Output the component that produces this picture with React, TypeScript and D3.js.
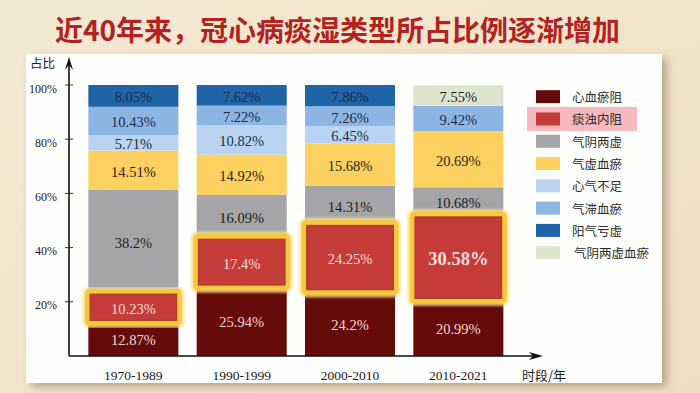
import React from "react";
import * as d3 from "d3";

const periods = ["1970-1989", "1990-1999", "2000-2010", "2010-2021"];
const syndromes = ["心血瘀阻", "痰浊内阻", "气阴两虚", "气虚血瘀", "心气不足", "气滞血瘀", "阳气亏虚", "气阴两虚血瘀"];
const v_xinxueyuzu = [12.87, 25.94, 24.2, 20.99];
const v_tanzhuoneizu = [10.23, 17.4, 24.25, 30.58];
const v_qiyinliangxu = [38.2, 16.09, 14.31, 10.68];
const v_qixuxueyu = [14.51, 14.92, 15.68, 20.69];
const v_xinqibuzu = [5.71, 10.82, 6.45, 0];
const v_qizhixueyu = [10.43, 7.22, 7.26, 9.42];
const v_yangqikuixu = [8.05, 7.62, 7.86, 0];
const v_qiyinxueyu = [0, 0, 0, 7.55];
const yTicks = [20, 40, 60, 80, 100];

const seriesValues = [v_xinxueyuzu, v_tanzhuoneizu, v_qiyinliangxu, v_qixuxueyu, v_xinqibuzu, v_qizhixueyu, v_yangqikuixu, v_qiyinxueyu];
const colors = ["#660b0b", "#c63c3a", "#a5a5a7", "#fdd160", "#b9d3f1", "#8db5e3", "#1f64a6", "#dde5cf"];
const textColors = ["#f6d6cf", "#f8dcd6", "#1d1d1d", "#2a2216", "#1b2b4d", "#1b2b4d", "#1b2b4d", "#1f1f1f"];

const serif = "'Liberation Serif', 'Times New Roman', serif";
const cjk = "'Noto Sans CJK SC', sans-serif";

export default function App() {
  const W = 700, H = 393;
  const x = d3.scaleBand<string>().domain(periods).range([79.2, 512.5]).paddingInner(0.169).paddingOuter(0.0845);
  const y = d3.scaleLinear().domain([0, 100]).range([356, 85]);
  const axisX = 69;

  const rows = periods.map((p, i) => {
    const obj: any = { period: p };
    syndromes.forEach((s, k) => (obj[s] = seriesValues[k][i]));
    return obj;
  });
  const stack = d3.stack<any>().keys(syndromes)(rows);

  const legendY = d3.scalePoint<string>().domain(syndromes).range([96.7, 252.7]);

  return (
    <svg width={W} height={H} style={{ position: "fixed", left: 0, top: 0, display: "block" }}>
      <defs>
        <linearGradient id="bg" x1="0" y1="0" x2="1" y2="1">
          <stop offset="0" stopColor="#f4e9d4" />
          <stop offset="1" stopColor="#efdfc2" />
        </linearGradient>
        <filter id="shadow" x="-5%" y="-5%" width="115%" height="120%">
          <feDropShadow dx="5" dy="4" stdDeviation="4" floodColor="#6b5a40" floodOpacity="0.45" />
        </filter>
        <filter id="glow" x="-10%" y="-10%" width="120%" height="120%">
          <feGaussianBlur stdDeviation="1.2" />
        </filter>
      </defs>
      <rect x={0} y={0} width={W} height={H} fill="url(#bg)" />
      <text x={55} y={41} fontFamily={cjk} fontWeight={700} fontSize={28} fill="#b22320" stroke="#f9efe0" strokeWidth={0.6} paintOrder="stroke">
        近40年来，冠心病痰湿类型所占比例逐渐增加
      </text>
      <rect x={26} y={54} width={636} height={329} fill="#fefefc" filter="url(#shadow)" />

      {/* bars */}
      {stack.map((layer, k) =>
        layer.map((d, i) => {
          const v = seriesValues[k][i];
          if (!v) return null;
          const x0 = x(periods[i])!;
          const y0 = y(d[1]);
          const h = y(d[0]) - y(d[1]);
          return <rect key={`${k}-${i}`} x={x0} y={y0} width={x.bandwidth()} height={h} fill={colors[k]} />;
        })
      )}

      {/* highlight boxes on 痰浊内阻 */}
      {stack[1].map((d, i) => {
        const x0 = x(periods[i])!;
        const bw = x.bandwidth();
        const y0 = y(d[1]);
        const y1 = y(d[0]);
        return (
          <g key={`hl-${i}`}>
            <rect x={x0 - 2} y={y0 - 3} width={bw + 4} height={y1 - y0 + 6} fill="none" stroke="#fbe08a" strokeWidth={8} rx={3} filter="url(#glow)" opacity={0.8} />
            <rect x={x0 - 1} y={y0 - 2} width={bw + 2} height={y1 - y0 + 4} fill={colors[1]} stroke="#f7c73f" strokeWidth={5} rx={2} />
            <rect x={x0 + 1.8} y={y0 + 0.8} width={bw - 3.6} height={y1 - y0 - 1.6} fill="none" stroke="#a8421e" strokeWidth={1.3} />
          </g>
        );
      })}

      {/* value labels */}
      {stack.map((layer, k) =>
        layer.map((d, i) => {
          const v = seriesValues[k][i];
          if (!v) return null;
          const cx = x(periods[i])! + x.bandwidth() / 2;
          const cy = (y(d[0]) + y(d[1])) / 2 + 1.5;
          const big = k === 1 && i === 3;
          return (
            <text key={`t-${k}-${i}`} x={cx} y={cy} textAnchor="middle" dominantBaseline="central" fontFamily={serif}
              fontSize={big ? 18.5 : 14.5} fontWeight={big ? 700 : 400} fill={textColors[k]}>
              {`${v}%`}
            </text>
          );
        })
      )}

      {/* axes */}
      <line x1={axisX} y1={356} x2={axisX} y2={62} stroke="#111" strokeWidth={1.6} />
      <path d={`M${axisX - 4},${70} L${axisX},${57} L${axisX + 4},${70} L${axisX},${65} Z`} fill="#111" />
      <line x1={axisX} y1={356} x2={535} y2={356} stroke="#111" strokeWidth={1.6} />
      <path d={`M${529},${352} L${543},${356} L${529},${360} L${533},${356} Z`} fill="#111" />
      {yTicks.map((t) => (
        <g key={`yt-${t}`}>
          <line x1={axisX - 4} x2={axisX + 4} y1={y(t)} y2={y(t)} stroke="#333" strokeWidth={1} />
          <text x={57} y={y(t) + 7.5} textAnchor="end" fontFamily={serif} fontSize={12} fill="#1a1a1a">{`${t}%`}</text>
        </g>
      ))}
      <text x={30} y={68} fontFamily={cjk} fontSize={12.5} fill="#222">占比</text>
      {periods.map((p) => (
        <text key={`xl-${p}`} x={x(p)! + x.bandwidth() / 2} y={380} textAnchor="middle" fontFamily={serif} fontSize={13.5} fill="#1a1a1a">{p}</text>
      ))}
      <text x={522} y={380} fontFamily={cjk} fontSize={13} fill="#222">时段/年</text>

      {/* legend */}
      <rect x={527} y={107} width={110} height={24} fill="#f5b9bf" />
      {syndromes.map((s, k) => (
        <g key={`lg-${s}`}>
          <rect x={536} y={legendY(s)! - 6.5} width={24} height={13} fill={colors[k]} />
          <text x={k === 7 ? 574 : 572} y={legendY(s)!} dominantBaseline="central" fontFamily={cjk} fontSize={12.5} fill="#2a2a2a">{s}</text>
        </g>
      ))}
    </svg>
  );
}
